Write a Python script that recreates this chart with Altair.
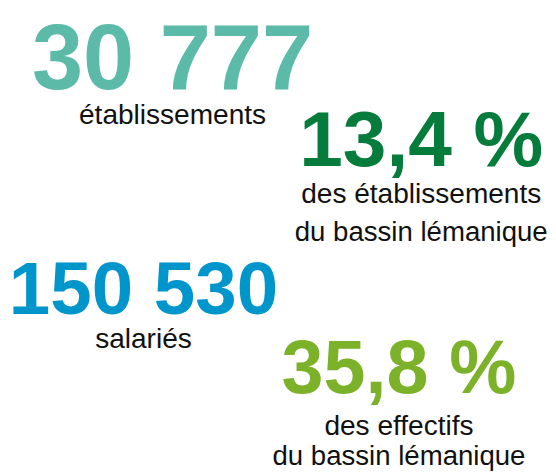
import altair as alt
import pandas as pd

figures = ["30 777", "13,4 %", "150 530", "35,8 %"]
captions_1 = ["établissements", "des établissements", "salariés", "des effectifs"]
captions_2 = ["", "du bassin lémanique", "", "du bassin lémanique"]
colors = ["#5bbaa8", "#067c3c", "#0096cc", "#7cb22a"]

W, H = 540, 460
NUM_FONT = "Liberation Sans"
TXT_FONT = "Liberation Sans"

# layout: (center x, number baseline, number size, caption1 baseline, caption2 baseline)
layout = [
    (156, 75, 95, 111, None),
    (413, 154, 81, 193, 232),
    (126, 307, 77, 342, None),
    (390, 389, 78, 432, 463),
]

layers = []
for i, (cx, nb, ns, c1, c2) in enumerate(layout):
    df = pd.DataFrame({"t": [figures[i]]})
    layers.append(
        alt.Chart(df).mark_text(
            font=NUM_FONT, fontWeight="bold", fontSize=ns, color=colors[i],
            align="center", baseline="alphabetic"
        ).encode(text="t:N", x=alt.value(cx), y=alt.value(nb))
    )
    df1 = pd.DataFrame({"t": [captions_1[i]]})
    layers.append(
        alt.Chart(df1).mark_text(
            font=TXT_FONT, fontSize=29, color="#111111",
            align="center", baseline="alphabetic"
        ).encode(text="t:N", x=alt.value(cx), y=alt.value(c1))
    )
    if c2 is not None:
        df2 = pd.DataFrame({"t": [captions_2[i]]})
        layers.append(
            alt.Chart(df2).mark_text(
                font=TXT_FONT, fontSize=28.5, color="#111111",
                align="center", baseline="alphabetic"
            ).encode(text="t:N", x=alt.value(cx), y=alt.value(c2))
        )

chart = alt.layer(*layers).properties(
    width=W, height=H, padding=0, background="white"
).configure_view(stroke=None)

chart.save("out.html", embed_options={"renderer": "svg", "actions": False})
